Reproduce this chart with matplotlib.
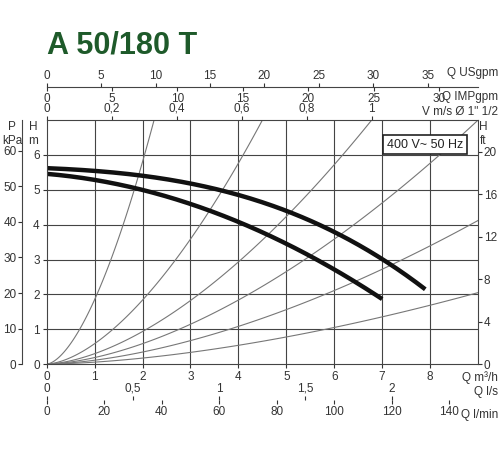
import numpy as np
import matplotlib
matplotlib.use("Agg")
import matplotlib.pyplot as plt

plt.rcParams['font.family'] = ['Liberation Sans Narrow', 'Liberation Sans', 'DejaVu Sans']

q_upper = [0, 1, 2, 3, 4, 5, 6, 7, 7.9]
h_upper = [5.62, 5.55, 5.4, 5.18, 4.85, 4.4, 3.8, 3.0, 2.15]
q_lower = [0, 1, 2, 3, 4, 5, 6, 7]
h_lower = [5.45, 5.3, 5.0, 4.6, 4.05, 3.45, 2.75, 1.85]
# system curves: (Q at end, H at end)
sys_end_q = [2.24, 4.5, 6.78, 9.0, 9.0, 9.0]
sys_end_h = [7.0, 7.0, 7.0, 7.0, 4.12, 2.05]
sys_exp = 1.65

W, H = 500, 450
fig = plt.figure(figsize=(5, 4.5), dpi=100)
ax = fig.add_axes([0.0934, 0.191, 0.8626, 0.542])
ax.set_xlim(0, 9)
ax.set_ylim(0, 7)
gc = '#444444'
tc = '#333333'
for q in range(1, 9):
    ax.axvline(q, color=gc, lw=0.8)
for h in range(1, 7):
    ax.axhline(h, color=gc, lw=0.8)
for qe, he in zip(sys_end_q, sys_end_h):
    qq = np.linspace(0, qe, 100)
    ax.plot(qq, he * (qq / qe) ** sys_exp, color='#777777', lw=0.8)
for qs, hs in ((q_upper, h_upper), (q_lower, h_lower)):
    c = np.polyfit(qs, hs, 3)
    qq = np.linspace(qs[0], qs[-1], 200)
    ax.plot(qq, np.polyval(c, qq), color='#111111', lw=3.2, solid_capstyle='butt')
for s in ax.spines.values():
    s.set_color(gc); s.set_linewidth(0.8)
fs = 8.5
ax.set_xticks(range(0, 9))
ax.set_yticks(range(0, 7))
ax.tick_params(labelsize=fs, colors=tc, length=3, pad=2)

def rlabel(txt, ypix, ha='right', x=0.996):
    fig.text(x, 1 - ypix / H, txt, fontsize=fs, ha=ha, va='center', color=tc)

rlabel('Q m³/h', 378)
rlabel('Q l/s', 392)
rlabel('Q l/min', 415)
rlabel('Q USgpm', 73)
rlabel('Q IMPgpm', 97)
rlabel('V m/s Ø 1" 1/2', 112)
fig.text(0.966, 1 - 134 / H, 'H\nft', fontsize=fs, ha='center', va='center', color=tc)
fig.text(33 / W, 1 - 134 / H, 'H\nm', fontsize=fs, ha='center', va='center', color=tc)
fig.text(12 / W, 1 - 134 / H, 'P\nkPa', fontsize=fs, ha='center', va='center', color=tc)

v = ax.secondary_xaxis('top', functions=(lambda x: x / 6.78, lambda x: x * 6.78))
v.set_xticks([0, 0.2, 0.4, 0.6, 0.8, 1.0])
v.set_xticklabels(['0', '0,2', '0,4', '0,6', '0,8', '1'])
v.tick_params(labelsize=fs, colors=tc, length=3, pad=1)
v.spines['top'].set_visible(False)

us = ax.secondary_xaxis(1.135, functions=(lambda x: x * 4.403, lambda x: x / 4.403))
us.set_xticks(range(0, 40, 5))
us.tick_params(labelsize=fs, colors=tc, length=3, pad=1)
us.spines['top'].set_color(gc)
imp = ax.secondary_xaxis(1.135, functions=(lambda x: x * 3.666, lambda x: x / 3.666))
imp.xaxis.set_ticks_position('bottom')
imp.set_xticks(range(0, 35, 5))
imp.tick_params(labelsize=fs, colors=tc, length=3, pad=1)
imp.spines['bottom'].set_visible(False); imp.spines['top'].set_visible(False)

ls = ax.secondary_xaxis(-0.148, functions=(lambda x: x / 3.6, lambda x: x * 3.6))
ls.xaxis.set_ticks_position('top')
ls.set_xticks([0, 0.5, 1, 1.5, 2])
ls.set_xticklabels(['0', '0,5', '1', '1,5', '2'])
ls.tick_params(labelsize=fs, colors=tc, length=3, pad=1)
ls.spines['top'].set_color(gc); ls.spines['bottom'].set_visible(False)
lm = ax.secondary_xaxis(-0.148, functions=(lambda x: x * 60 / 3.6, lambda x: x * 3.6 / 60))
lm.set_xticks(range(0, 160, 20))
lm.tick_params(labelsize=fs, colors=tc, length=3, pad=1)
lm.spines['bottom'].set_visible(False); lm.spines['top'].set_visible(False)

p = ax.secondary_yaxis(-0.057, functions=(lambda x: x * 9.81, lambda x: x / 9.81))
p.set_yticks(range(0, 70, 10))
p.tick_params(labelsize=fs, colors=tc, length=3, pad=1)
p.spines['left'].set_color(gc)
ft = ax.secondary_yaxis('right', functions=(lambda x: x * 3.281, lambda x: x / 3.281))
ft.set_yticks(range(0, 24, 4))
ft.tick_params(labelsize=fs, colors=tc, length=3, pad=1)
ft.spines['right'].set_visible(False)

ax.text(0.965, 0.9, '400 V~ 50 Hz', transform=ax.transAxes, fontsize=9, ha='right', va='center',
        color='#222222', bbox=dict(boxstyle='square,pad=0.3', fc='white', ec='#222222', lw=1.2))

fig.text(47 / W, 1 - 45 / H, 'A 50/180 T', fontsize=22, fontweight='bold', color='#1e5a2a',
         ha='left', va='center')
fig.savefig('out.png', dpi=100, facecolor='white')
